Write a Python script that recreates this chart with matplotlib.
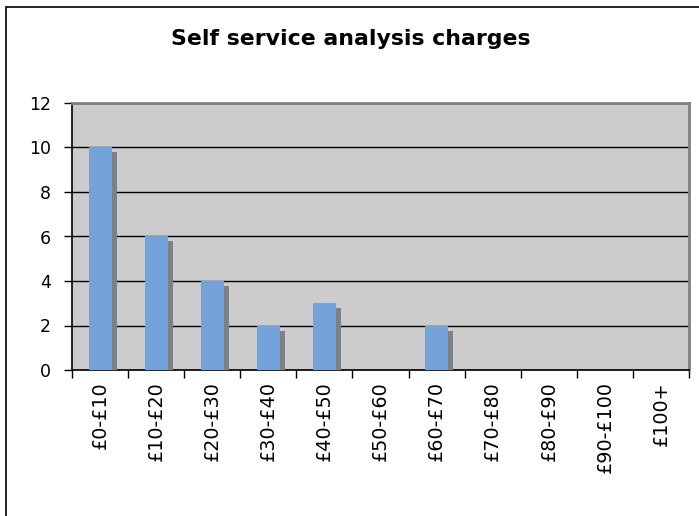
"""
Recreate the 'Self service analysis charges' column chart.
"""

import matplotlib.pyplot as plt
import matplotlib.patheffects as pe
from matplotlib.patches import Rectangle

CATEGORIES: list[str] = [
    "£0-£10", "£10-£20", "£20-£30", "£30-£40", "£40-£50", "£50-£60",
    "£60-£70", "£70-£80", "£80-£90", "£90-£100", "£100+",
]
COUNTS: list[int] = [10, 6, 4, 2, 3, 0, 2, 0, 0, 0, 0]
Y_TICKS: list[int] = [0, 2, 4, 6, 8, 10, 12]

W, H = 699, 516


def create_chart() -> None:
    fig = plt.figure(figsize=(W / 100, H / 100), dpi=100)
    fig.patch.set_facecolor("white")

    # chart area border (only top and left visible)
    fig.patches.append(Rectangle((6 / W, -0.1), 1.2, (H - 7) / H + 0.1,
                                 transform=fig.transFigure, fill=False,
                                 edgecolor="black", linewidth=1.2))

    ax = fig.add_axes([72 / W, (H - 370) / H, (689 - 72) / W, (370 - 103) / H])
    ax.set_facecolor("#cccccc")

    x = range(len(CATEGORIES))
    bars = ax.bar(x, COUNTS, width=0.41, color="#73a3d8", zorder=3)
    for b in bars:
        b.set_path_effects([pe.SimplePatchShadow(offset=(3.6, -3.6),
                                                 shadow_rgbFace="#808080",
                                                 alpha=1.0),
                            pe.Normal()])

    ax.set_xlim(-0.5, len(CATEGORIES) - 0.5)
    ax.set_ylim(0, 12)
    ax.set_yticks(Y_TICKS)
    ax.yaxis.grid(True, color="black", linewidth=1, zorder=1)
    ax.set_axisbelow(True)

    ax.set_xticks([i - 0.5 for i in range(len(CATEGORIES) + 1)], minor=False)
    ax.set_xticklabels([""] * (len(CATEGORIES) + 1))
    ax.set_xticks(list(x), minor=True)
    ax.set_xticklabels(CATEGORIES, minor=True, rotation=90, fontsize=13.8,
                       va="top")
    ax.tick_params(axis="x", which="minor", length=0, pad=8)
    ax.tick_params(axis="x", which="major", length=6, width=1, direction="out")
    ax.tick_params(axis="y", length=6, width=1, labelsize=12.5, pad=9)

    for side in ("top", "right"):
        ax.spines[side].set_color("#808080")
        ax.spines[side].set_linewidth(2)
    for side in ("left", "bottom"):
        ax.spines[side].set_color("black")
        ax.spines[side].set_linewidth(1.2)

    fig.text(351 / W, (H - 39) / H, "Self service analysis charges",
             ha="center", va="center", fontsize=15.8, fontweight="bold")

    fig.savefig("out.png", dpi=100)


if __name__ == "__main__":
    create_chart()
